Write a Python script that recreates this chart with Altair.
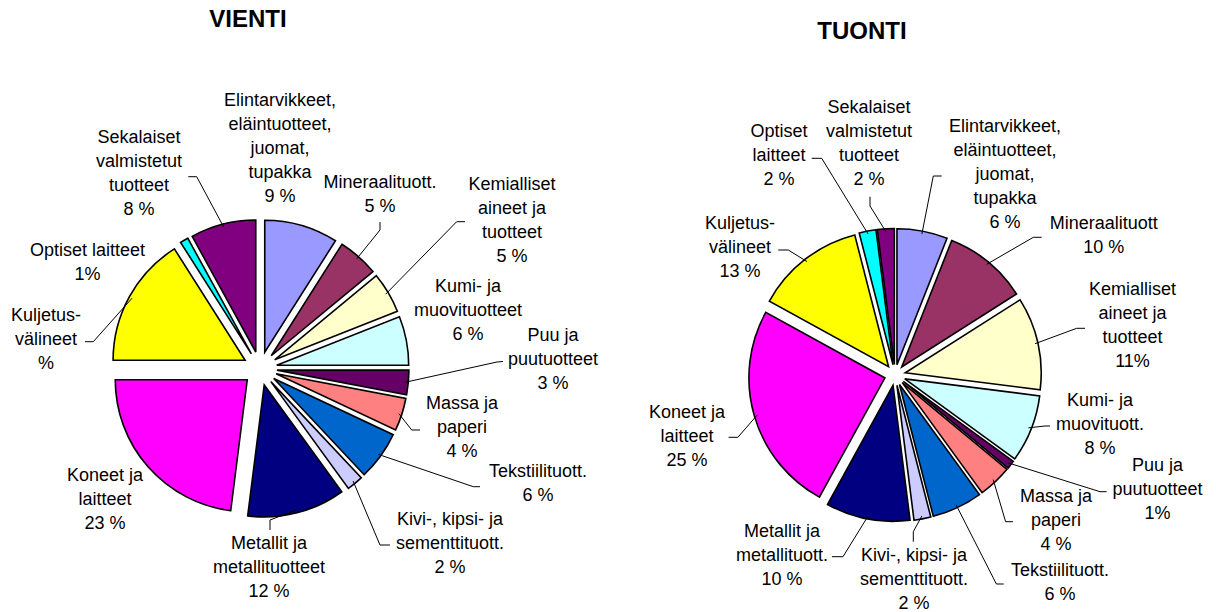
import altair as alt
import pandas as pd

# ---------------- data ----------------
CATEGORIES = [
    "Elintarvikkeet", "Mineraalituotteet", "Kemialliset aineet", "Kumi- ja muovituotteet",
    "Puu ja puutuotteet", "Massa ja paperi", "Tekstiilituotteet", "Kivi-, kipsi- ja sementtituotteet",
    "Metallit ja metallituotteet", "Koneet ja laitteet", "Kuljetusvälineet", "Optiset laitteet",
    "Sekalaiset valmistetut tuotteet",
]
VIENTI_VALUES = [9, 5, 5, 6, 3, 4, 6, 2, 12, 23, 16, 1, 8]
TUONTI_VALUES = [6, 10, 11, 8, 1, 4, 6, 2, 10, 25, 13, 2, 2]

VIENTI_LABELS = [
    "Elintarvikkeet,\neläintuotteet,\njuomat,\ntupakka\n9 %",
    "Mineraalituott.\n5 %",
    "Kemialliset\naineet ja\ntuotteet\n5 %",
    "Kumi- ja\nmuovituotteet\n6 %",
    "Puu ja\npuutuotteet\n3 %",
    "Massa ja\npaperi\n4 %",
    "Tekstiilituott.\n6 %",
    "Kivi-, kipsi- ja\nsementtituott.\n2 %",
    "Metallit ja\nmetallituotteet\n12 %",
    "Koneet ja\nlaitteet\n23 %",
    "Kuljetus-\nvälineet\n%",
    "Optiset laitteet\n1%",
    "Sekalaiset\nvalmistetut\ntuotteet\n8 %",
]
TUONTI_LABELS = [
    "Elintarvikkeet,\neläintuotteet,\njuomat,\ntupakka\n6 %",
    "Mineraalituott\n10 %",
    "Kemialliset\naineet ja\ntuotteet\n11%",
    "Kumi- ja\nmuovituott.\n8 %",
    "Puu ja\npuutuotteet\n1%",
    "Massa ja\npaperi\n4 %",
    "Tekstiilituott.\n6 %",
    "Kivi-, kipsi- ja\nsementtituott.\n2 %",
    "Metallit ja\nmetallituott.\n10 %",
    "Koneet ja\nlaitteet\n25 %",
    "Kuljetus-\nvälineet\n13 %",
    "Optiset\nlaitteet\n2 %",
    "Sekalaiset\nvalmistetut\ntuotteet\n2 %",
]
TITLES = ["VIENTI", "TUONTI"]

# ---------------- style / layout ----------------
COLORS = ["#9999FF", "#993366", "#FFFFCC", "#CCFFFF", "#660066", "#FF8080", "#0066CC",
          "#CCCCFF", "#000080", "#FF00FF", "#FFFF00", "#00FFFF", "#800080"]
FONT = "Liberation Sans"
FONT_SIZE = 18
LINE_H = 24
M = 8  # page margin

# label positions are the centres of the whole text blocks (page pixels)
VIENTI_STYLE = {
    "center": (260, 368.5), "radius": 132, "explode": 17,
    "label": [(280, 149), (380, 195), (512, 221), (468, 310.5), (553, 360), (462, 428),
              (538, 484), (450, 544), (269, 568), (105, 500), (46, 340), (87.5, 262.5), (139, 174)],
    "leader": [None, ((380, 230), (380, 222)), ((456.7, 221.7), (465, 221.7)), None,
               ((497, 362), (503, 361.5)), ((411.7, 430), (420, 430)), ((473.3, 486.7), (480, 486.7)),
               ((380, 545), (390, 545)), ((270, 520), (270, 530)), None,
               ((93.3, 341.7), (85, 341.7)), None, ((196.7, 176.7), (188.3, 176.7))],
}
TUONTI_STYLE = {
    "center": (895, 375), "radius": 136, "explode": 10.5,
    "label": [(1005, 174.5), (1103.7, 236), (1132.5, 326), (1100, 424.5), (1157.5, 490), (1056, 520.5),
              (1060, 583), (914, 580), (782, 556), (687, 436.5), (740, 248), (779, 156), (869, 144)],
    "leader": [((933.3, 176), (941.7, 176)), ((1033.3, 237.3), (1041.7, 237.3)),
               ((1076.7, 328.3), (1085, 328.3)), ((1045, 426), (1050, 426)),
               ((1100, 491.7), (1106.7, 491.7)), ((1005.6, 521.7), (1013, 521.7)),
               ((996.4, 584), (1003.7, 584)), ((913.3, 531.7), (913.3, 541.7)),
               ((843, 556.7), (832, 556.7)), ((737.9, 437.3), (728.6, 437.3)),
               ((788.3, 250), (778.3, 250)), ((821.7, 158.3), (811.7, 158.3)),
               ((870, 206), (870, 196.7))],
}
TITLE_POS = [(248, 20), (862, 32)]

rows = []
for pie, values, labels, st in [("VIENTI", VIENTI_VALUES, VIENTI_LABELS, VIENTI_STYLE),
                                ("TUONTI", TUONTI_VALUES, TUONTI_LABELS, TUONTI_STYLE)]:
    for i, cat in enumerate(CATEGORIES):
        lead = st["leader"][i]
        (ex, ey), (tx, ty) = lead if lead else ((0, 0), (0, 0))
        n_lines = labels[i].count("\n") + 1
        rows.append(dict(
            pie=pie, order=i, cat=cat, value=values[i], color=COLORS[i], label=labels[i],
            lx=st["label"][i][0] - M,
            ly=st["label"][i][1] - M - (n_lines - 1) * LINE_H / 2,  # first line centre
            has_leader=lead is not None,
            ex=ex - M, ey=ey - M, tx=tx - M, ty=ty - M,
            cx=st["center"][0] - M, cy=st["center"][1] - M,
            r=st["radius"], explode=st["explode"],
        ))
df = pd.DataFrame(rows)
titles_df = pd.DataFrame({"title": TITLES,
                          "x": [p[0] - M for p in TITLE_POS],
                          "y": [p[1] - M for p in TITLE_POS]})

base = (
    alt.Chart(df)
    .transform_joinaggregate(total="sum(value)", groupby=["pie"])
    .transform_window(cum="sum(value)", groupby=["pie"], sort=[alt.SortField("order")], frame=[None, 0])
    .transform_calculate(a0="2*PI*(datum.cum - datum.value)/datum.total")
    .transform_calculate(a1="2*PI*datum.cum/datum.total")
    .transform_calculate(mid="(datum.a0 + datum.a1)/2")
    .transform_calculate(px="datum.cx + datum.explode*sin(datum.mid)")
    .transform_calculate(py="datum.cy - datum.explode*cos(datum.mid)")
    .transform_calculate(sx="datum.px + (datum.r - 3)*sin(datum.mid)")
    .transform_calculate(sy="datum.py - (datum.r - 3)*cos(datum.mid)")
)

arcs = base.mark_arc(stroke="black", strokeWidth=1.6).encode(
    x=alt.X("px:Q", scale=None),
    y=alt.Y("py:Q", scale=None),
    theta=alt.Theta("a0:Q", scale=None, stack=False),
    theta2=alt.Theta2("a1:Q"),
    radius=alt.Radius("r:Q", scale=None),
    color=alt.Color("color:N", scale=None),
)

lead1 = base.transform_filter("datum.has_leader").mark_rule(color="black", strokeWidth=1).encode(
    x=alt.X("sx:Q", scale=None), y=alt.Y("sy:Q", scale=None),
    x2=alt.X2("ex:Q"), y2=alt.Y2("ey:Q"),
)
lead2 = base.transform_filter("datum.has_leader").mark_rule(color="black", strokeWidth=1).encode(
    x=alt.X("ex:Q", scale=None), y=alt.Y("ey:Q", scale=None),
    x2=alt.X2("tx:Q"), y2=alt.Y2("ty:Q"),
)

texts = alt.Chart(df).mark_text(
    font=FONT, fontSize=FONT_SIZE, lineBreak="\n", lineHeight=LINE_H, align="center",
    baseline="middle", color="black"
).encode(
    x=alt.X("lx:Q", scale=None), y=alt.Y("ly:Q", scale=None), text=alt.Text("label:N"),
)

titles = alt.Chart(titles_df).mark_text(
    font=FONT, fontSize=24, fontWeight="bold", align="center", baseline="middle", color="black"
).encode(
    x=alt.X("x:Q", scale=None), y=alt.Y("y:Q", scale=None), text=alt.Text("title:N"),
)

chart = (
    alt.layer(arcs, lead1, lead2, texts, titles)
    .properties(width=1200, height=604, autosize=alt.AutoSizeParams(type="none"), padding=0,
                background="white")
    .configure_view(stroke=None)
)

chart.save("out.html", embed_options={"renderer": "svg", "actions": False})
